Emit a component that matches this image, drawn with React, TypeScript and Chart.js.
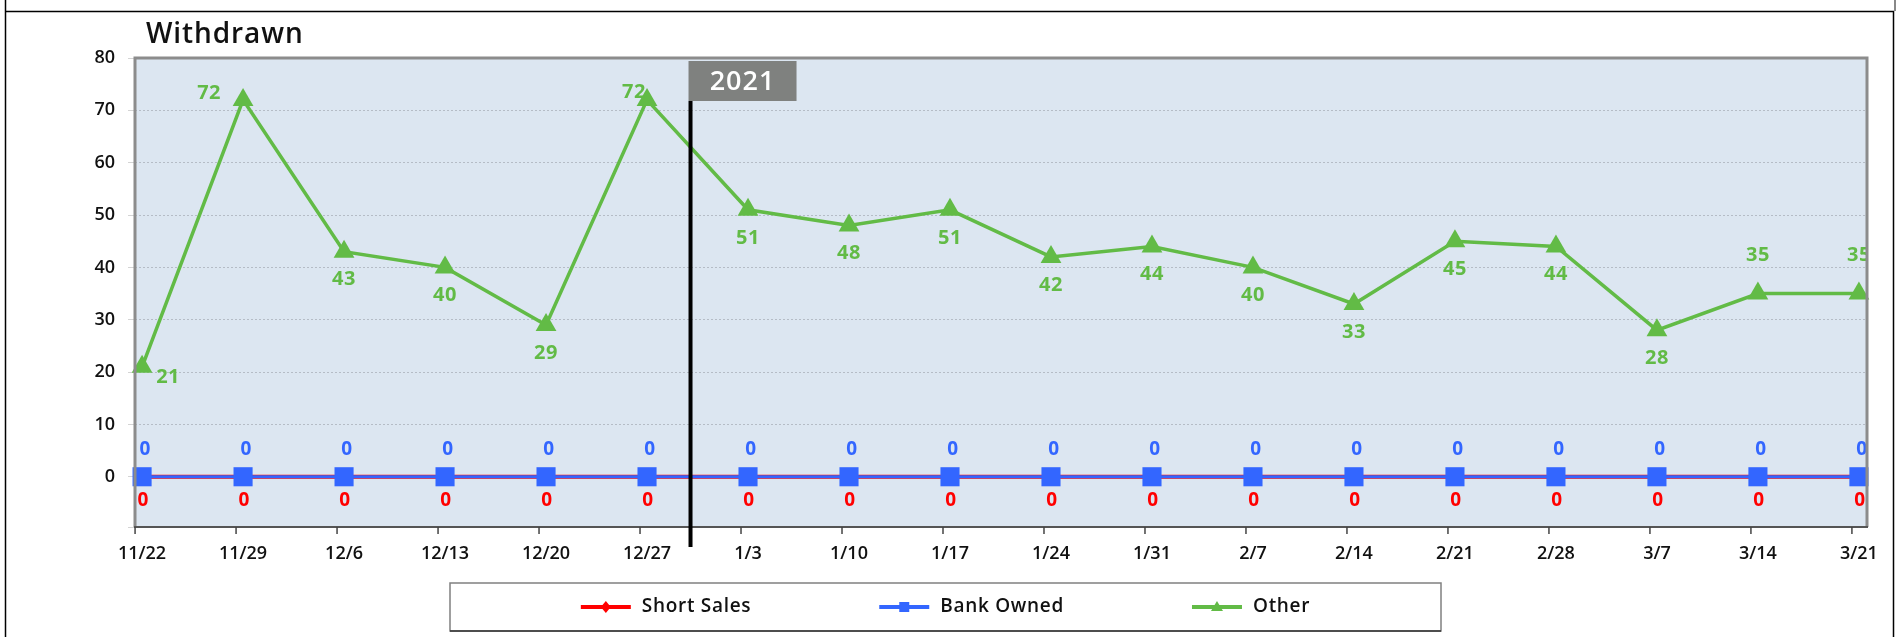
import React, { useEffect, useRef } from 'react';
import { Chart, registerables } from 'chart.js';

Chart.register(...registerables);

// ---------- data ----------
const weekLabels = ['11/22', '11/29', '12/6', '12/13', '12/20', '12/27', '1/3', '1/10', '1/17', '1/24', '1/31', '2/7', '2/14', '2/21', '2/28', '3/7', '3/14', '3/21'];
const shortSales = [0, 0, 0, 0, 0, 0, 0, 0, 0, 0, 0, 0, 0, 0, 0, 0, 0, 0];
const bankOwned = [0, 0, 0, 0, 0, 0, 0, 0, 0, 0, 0, 0, 0, 0, 0, 0, 0, 0];
const other = [21, 72, 43, 40, 29, 72, 51, 48, 51, 42, 44, 40, 33, 45, 44, 28, 35, 35];
const otherLabelPlacement = ['right', 'leftFar', 'below', 'below', 'below', 'left', 'below', 'below', 'below', 'below', 'below', 'below', 'below', 'below', 'below', 'below', 'above', 'above'];
const yTickValues = [0, 10, 20, 30, 40, 50, 60, 70, 80];
const yMin = -9.6;
const yMax = 80;
const chartTitle = 'Withdrawn';
const yearLabel = '2021';
const yearBoundary = 5.5; // between 12/27 and 1/3

// ---------- styles ----------
const FONT = '"Open Sans", "DejaVu Sans", sans-serif';
const GREEN = '#62bb46';
const BLUE = '#3366ff';
const RED = '#ff0000';
const TICK_SHIFT = 7;

const PLACEMENT: Record<string, [number, number]> = {
  below: [0, 28],
  above: [0, -38],
  left: [-13, -8],
  leftFar: [-34, -7],
  right: [26, 10],
};

const decorPlugin = {
  id: 'decor',
  beforeDraw(chart: any) {
    const { ctx, chartArea: a } = chart;
    ctx.save();
    ctx.fillStyle = '#dce6f1';
    ctx.fillRect(a.left, a.top, a.right - a.left, a.bottom - a.top);
    ctx.restore();
  },
  afterDatasetsDraw(chart: any) {
    const { ctx, chartArea: a } = chart;
    ctx.save();
    ctx.beginPath();
    ctx.rect(a.left, a.top, a.right - a.left, a.bottom - a.top);
    ctx.clip();
    ctx.textAlign = 'center';
    ctx.textBaseline = 'middle';
    ctx.letterSpacing = '0.5px';
    // Other labels
    ctx.font = `bold 20px ${FONT}`;
    ctx.fillStyle = GREEN;
    const mo = chart.getDatasetMeta(2);
    mo.data.forEach((pt: any, i: number) => {
      const [dx, dy] = PLACEMENT[otherLabelPlacement[i]] || PLACEMENT.below;
      ctx.fillText(String(other[i]), pt.x + dx, pt.y + dy);
    });
    // zero labels
    ctx.font = `bold 19px ${FONT}`;
    ctx.fillStyle = BLUE;
    chart.getDatasetMeta(1).data.forEach((pt: any, i: number) => {
      ctx.fillText(String(bankOwned[i]), pt.x + 3, pt.y - 27);
    });
    ctx.fillStyle = RED;
    chart.getDatasetMeta(0).data.forEach((pt: any, i: number) => {
      ctx.fillText(String(shortSales[i]), pt.x + 1, pt.y + 24);
    });
    ctx.restore();
  },
  afterDraw(chart: any) {
    const { ctx, chartArea: a } = chart;
    const xs = chart.scales.x;
    ctx.save();

    // plot frame
    ctx.strokeStyle = '#8c8c8c';
    ctx.lineWidth = 3;
    ctx.beginPath();
    ctx.moveTo(a.left, a.bottom);
    ctx.lineTo(a.left, a.top);
    ctx.lineTo(a.right, a.top);
    ctx.lineTo(a.right, a.bottom);
    ctx.stroke();
    ctx.strokeStyle = '#555';
    ctx.lineWidth = 2;
    ctx.beginPath();
    ctx.moveTo(a.left - 1, a.bottom);
    ctx.lineTo(a.right + 1, a.bottom);
    ctx.stroke();

    // x tick marks
    ctx.strokeStyle = '#444';
    ctx.lineWidth = 1.5;
    weekLabels.forEach((_, i) => {
      const x = xs.getPixelForValue(i) - TICK_SHIFT;
      ctx.beginPath();
      ctx.moveTo(x, a.bottom);
      ctx.lineTo(x, a.bottom + 7);
      ctx.stroke();
    });

    // year divider
    const dx = xs.getPixelForValue(yearBoundary) - TICK_SHIFT;
    const boxTop = 61;
    const boxH = 40;
    const boxW = 108;
    ctx.fillStyle = '#7f817f';
    ctx.fillRect(dx - 2, boxTop, boxW, boxH);
    ctx.fillStyle = '#ffffff';
    ctx.font = `600 27px ${FONT}`;
    ctx.letterSpacing = '1px';
    ctx.textAlign = 'center';
    ctx.textBaseline = 'middle';
    ctx.fillText(yearLabel, dx - 2 + boxW / 2, boxTop + boxH / 2 + 1);
    ctx.strokeStyle = '#000';
    ctx.lineWidth = 4;
    ctx.beginPath();
    ctx.moveTo(dx, boxTop + boxH);
    ctx.lineTo(dx, 547);
    ctx.stroke();

    // title
    ctx.fillStyle = '#111';
    ctx.font = `600 28px ${FONT}`;
    ctx.letterSpacing = '0.9px';
    ctx.textAlign = 'left';
    ctx.textBaseline = 'alphabetic';
    ctx.fillText(chartTitle, 146, 43);

    // outer frame
    ctx.strokeStyle = '#000';
    ctx.lineWidth = 1.5;
    ctx.beginPath();
    ctx.moveTo(5.5, 0);
    ctx.lineTo(5.5, 637);
    ctx.moveTo(5, 11.5);
    ctx.lineTo(1893.5, 11.5);
    ctx.lineTo(1893.5, 637);
    ctx.stroke();
    ctx.strokeStyle = '#888';
    ctx.lineWidth = 2;
    ctx.beginPath();
    ctx.moveTo(1895, 0);
    ctx.lineTo(1895, 11);
    ctx.stroke();

    // legend
    const lb = { left: 450, right: 1441, top: 583, bottom: 631 };
    ctx.strokeStyle = '#808080';
    ctx.lineWidth = 1.5;
    ctx.strokeRect(lb.left, lb.top, lb.right - lb.left, lb.bottom - lb.top);
    ctx.strokeStyle = '#333';
    ctx.lineWidth = 1.5;
    ctx.beginPath();
    ctx.moveTo(lb.left, lb.bottom);
    ctx.lineTo(lb.right, lb.bottom);
    ctx.stroke();

    const ds = chart.data.datasets;
    ctx.font = `600 19px ${FONT}`;
    ctx.letterSpacing = '0.7px';
    const lineLen = 50;
    const gap = 11;
    const itemGap = 128;
    const widths = ds.map((d: any) => ctx.measureText(d.label).width);
    const total = widths.reduce((s: number, w: number) => s + lineLen + gap + w, 0) + itemGap * (ds.length - 1);
    let x = (lb.left + lb.right) / 2 - total / 2;
    const cy = (lb.top + lb.bottom) / 2;
    ds.forEach((d: any, i: number) => {
      const c = d.borderColor;
      ctx.strokeStyle = c;
      ctx.fillStyle = c;
      ctx.lineWidth = 4;
      ctx.beginPath();
      ctx.moveTo(x, cy);
      ctx.lineTo(x + lineLen, cy);
      ctx.stroke();
      const mx = x + lineLen / 2;
      ctx.beginPath();
      if (d.pointStyle === 'rect') {
        ctx.rect(mx - 5, cy - 5, 10, 10);
      } else if (d.pointStyle === 'triangle') {
        ctx.moveTo(mx, cy - 6);
        ctx.lineTo(mx + 6, cy + 4);
        ctx.lineTo(mx - 6, cy + 4);
        ctx.closePath();
      } else {
        ctx.moveTo(mx, cy - 6);
        ctx.lineTo(mx + 5, cy);
        ctx.lineTo(mx, cy + 6);
        ctx.lineTo(mx - 5, cy);
        ctx.closePath();
      }
      ctx.fill();
      ctx.fillStyle = '#111';
      ctx.textAlign = 'left';
      ctx.textBaseline = 'middle';
      ctx.fillText(d.label, x + lineLen + gap, cy);
      x += lineLen + gap + widths[i] + itemGap;
    });

    ctx.restore();
  },
};

export default function App() {
  const ref = useRef<HTMLCanvasElement>(null);
  useEffect(() => {
    const canvas = ref.current;
    if (!canvas) return;
    const chart = new Chart(canvas, {
      type: 'line',
      data: {
        datasets: [
          {
            label: 'Short Sales',
            data: shortSales.map((v, i) => ({ x: i, y: v })),
            borderColor: RED,
            backgroundColor: RED,
            borderWidth: 4,
            pointStyle: 'rectRot',
            pointRadius: 0,
            tension: 0,
            clip: false,
            order: 2,
          },
          {
            label: 'Bank Owned',
            data: bankOwned.map((v, i) => ({ x: i, y: v })),
            borderColor: BLUE,
            backgroundColor: BLUE,
            borderWidth: 3,
            pointStyle: 'rect',
            pointRadius: 13.5,
            pointBorderWidth: 0,
            tension: 0,
            clip: false,
            order: 1,
          },
          {
            label: 'Other',
            data: other.map((v, i) => ({ x: i, y: v })),
            borderColor: GREEN,
            backgroundColor: GREEN,
            borderWidth: 3.5,
            pointStyle: 'triangle',
            pointRadius: 12,
            pointBorderWidth: 0,
            tension: 0,
            clip: false,
            order: 0,
          },
        ],
      } as any,
      options: {
        animation: false,
        responsive: false,
        devicePixelRatio: 1,
        layout: { padding: { left: 0, top: 58, right: 35, bottom: 0 } },
        plugins: {
          legend: { display: false },
          tooltip: { enabled: false },
          title: { display: false },
        },
        scales: {
          x: {
            type: 'linear',
            min: -0.07,
            max: 17.08,
            afterBuildTicks: (s: any) => {
              s.ticks = weekLabels.map((_, i) => ({ value: i }));
            },
            afterFit: (s: any) => {
              s.height = 110;
            },
            grid: { display: true, drawOnChartArea: false, color: 'rgba(0,0,0,0)', tickLength: 7 },
            border: { display: false },
            ticks: {
              autoSkip: false,
              maxRotation: 0,
              padding: 9,
              color: '#111',
              font: { family: FONT, size: 18, weight: '600' as any },
              callback: (v: any) => weekLabels[Math.round(v)] ?? '',
            },
          },
          y: {
            type: 'linear',
            min: yMin,
            max: yMax,
            afterBuildTicks: (s: any) => {
              s.ticks = [yMin, ...yTickValues].map((v) => ({ value: v }));
            },
            afterFit: (s: any) => {
              s.width = 135;
            },
            grid: { color: '#b5bcc6', lineWidth: 1, tickLength: 7, tickColor: '#d4d4d4' },
            border: { display: false, dash: [2, 2] },
            ticks: {
              padding: 13,
              color: '#111',
              font: { family: FONT, size: 18, weight: '600' as any },
              callback: (v: any) => (v < 0 ? '' : String(v)),
            },
          },
        },
      } as any,
      plugins: [decorPlugin],
    });
    return () => chart.destroy();
  }, []);
  return (
    <div style={{ position: 'fixed', left: 0, top: 0, width: 1902, height: 637, background: '#fff' }}>
      <canvas ref={ref} width={1902} height={637} style={{ display: 'block', width: 1902, height: 637 }} />
    </div>
  );
}
